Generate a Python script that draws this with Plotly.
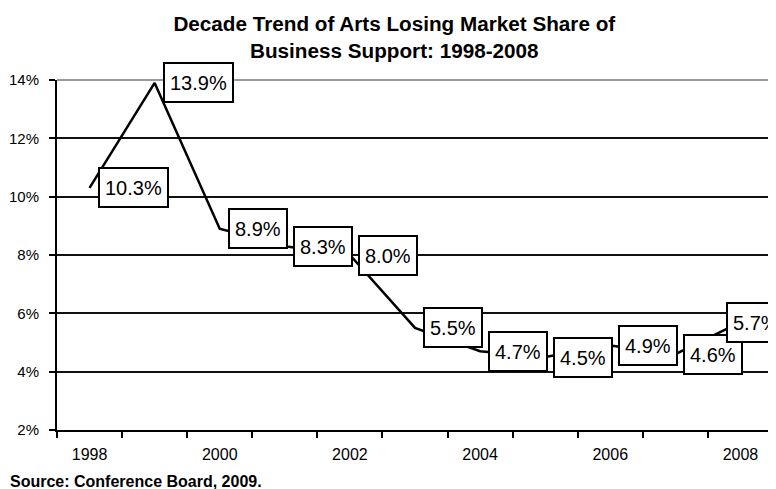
import plotly.graph_objects as go

# data
years = [1998, 1999, 2000, 2001, 2002, 2003, 2004, 2005, 2006, 2007, 2008]
share = [10.3, 13.9, 8.9, 8.3, 8.0, 5.5, 4.7, 4.5, 4.9, 4.6, 5.7]
labels = ['10.3%', '13.9%', '8.9%', '8.3%', '8.0%', '5.5%', '4.7%', '4.5%', '4.9%', '4.6%', '5.7%']
year_ticks = [1998, 2000, 2002, 2004, 2006, 2008]
pct_ticks = [2, 4, 6, 8, 10, 12, 14]

FONT = 'Liberation Sans, Arial, sans-serif'

fig = go.Figure()
fig.add_trace(go.Scatter(x=years, y=share, mode='lines',
                         line=dict(color='black', width=2.5),
                         hoverinfo='skip', showlegend=False))

# boxed value labels, placed right of each point
for yr, val, txt in zip(years, share, labels):
    shift = -14 if yr == years[-1] else 8
    fig.add_annotation(x=yr, y=val, text=txt, showarrow=False,
                       xanchor='left', yanchor='middle', xshift=shift,
                       font=dict(family=FONT, size=20, color='black'),
                       height=27,
                       bgcolor='white', bordercolor='black',
                       borderwidth=2, borderpad=5)

fig.add_annotation(text='<b>Source: Conference Board, 2009.</b>',
                   xref='paper', yref='paper', x=-0.069, y=-0.146,
                   xanchor='left', yanchor='middle', showarrow=False,
                   font=dict(family=FONT, size=16, color='black'))

# grey frame on top and right of plot area
fig.add_shape(type='path', xref='x domain', yref='y domain',
              path='M 0 1 L 1 1 L 1 0', layer='above',
              line=dict(color='#9a9a9a', width=2))

# the page body adds an 8px offset, so the figure is a bit smaller
fig.update_layout(
    width=768, height=481,
    margin=dict(l=49, r=3, t=72, b=59),
    plot_bgcolor='white', paper_bgcolor='white',
    title=dict(text='<b>Decade Trend of Arts Losing Market Share of<br>Business Support: 1998-2008</b>',
               x=0.503, xref='container', xanchor='center',
               y=0.953, yref='container', yanchor='middle',
               font=dict(family=FONT, size=20.7, color='black')),
)

# white major ticks only push the year labels down
fig.update_xaxes(range=[1997.5, 2008.5], tickvals=year_ticks,
                 ticks='outside', ticklen=9, tickcolor='white',
                 automargin=False,
                 showgrid=False, zeroline=False,
                 showline=True, linecolor='black', linewidth=2,
                 tickfont=dict(family=FONT, size=16, color='black'),
                 minor=dict(tick0=1997.5, dtick=1, ticks='outside',
                            ticklen=6, tickwidth=2, tickcolor='black',
                            showgrid=False))

fig.update_yaxes(range=[2, 14], tickvals=pct_ticks,
                 ticktext=[f'{v}%' for v in pct_ticks],
                 ticks='outside', ticklen=6, tickwidth=2, tickcolor='black',
                 ticklabelstandoff=7, automargin=False,
                 showgrid=True, gridcolor='#111111', gridwidth=2,
                 zeroline=False, showline=True, linecolor='black', linewidth=2,
                 tickfont=dict(family=FONT, size=15, color='black'))

fig.write_html("out.html")
